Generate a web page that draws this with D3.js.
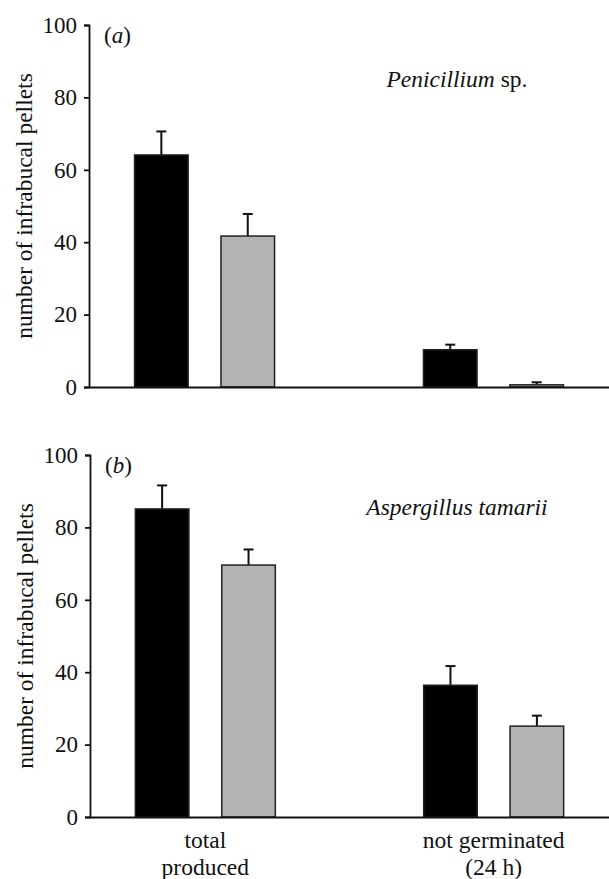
<!DOCTYPE html>
<html>
<head>
<meta charset="utf-8">
<script src="https://cdn.jsdelivr.net/npm/d3@7"></script>
<style>
  body { margin: 0; background: #fff; }
  svg { display: block; }
</style>
</head>
<body>
<div id="chart"></div>
<script>
const width = 609;
const height = 879;
const serif = "Liberation Serif";

// categorias do eixo x (cada uma em duas linhas)
const categories = ["total produced", "not germinated (24 h)"];
const categoryLines = [["total", "produced"], ["not germinated", "(24 h)"]];
const series = ["black", "grey"];
const yTicks = [0, 20, 40, 60, 80, 100];

// (a) Penicillium sp.
const penBlack = [64.1, 10.3];
const penBlackErr = [6.5, 1.4];
const penGrey = [41.7, 0.6];
const penGreyErr = [6.1, 0.7];

// (b) Aspergillus tamarii
const aspBlack = [85.1, 36.4];
const aspBlackErr = [6.5, 5.3];
const aspGrey = [69.6, 25.1];
const aspGreyErr = [4.3, 2.9];

const svg = d3.select("#chart").append("svg")
    .attr("width", width)
    .attr("height", height);

const fills = { black: "#000", grey: "#b3b3b3" };

function drawPanel(cfg) {
    const g = svg.append("g");

    const x0 = d3.scalePoint()
        .domain(categories)
        .range([cfg.left, width])
        .padding(0.4);

    const x1 = d3.scaleBand()
        .domain(series)
        .range([-70, 70])
        .paddingInner(0.38);

    const y = d3.scaleLinear()
        .domain([0, 100])
        .range([cfg.bottom, cfg.top]);

    const rows = [];
    categories.forEach((c, i) => {
        rows.push({ cat: c, s: "black", v: cfg.black[i], e: cfg.blackErr[i] });
        rows.push({ cat: c, s: "grey", v: cfg.grey[i], e: cfg.greyErr[i] });
    });

    // barras de erro (só para cima)
    const err = g.selectAll(".err").data(rows).enter().append("g");
    err.append("line")
        .attr("x1", d => x0(d.cat) + x1(d.s) + x1.bandwidth() / 2)
        .attr("x2", d => x0(d.cat) + x1(d.s) + x1.bandwidth() / 2)
        .attr("y1", d => y(d.v))
        .attr("y2", d => y(d.v + d.e))
        .attr("stroke", "#111")
        .attr("stroke-width", 2);
    err.append("line")
        .attr("x1", d => x0(d.cat) + x1(d.s) + x1.bandwidth() / 2 - 5)
        .attr("x2", d => x0(d.cat) + x1(d.s) + x1.bandwidth() / 2 + 5)
        .attr("y1", d => y(d.v + d.e))
        .attr("y2", d => y(d.v + d.e))
        .attr("stroke", "#111")
        .attr("stroke-width", 2);

    g.selectAll(".bar").data(rows).enter().append("rect")
        .attr("x", d => x0(d.cat) + x1(d.s))
        .attr("y", d => y(d.v))
        .attr("width", x1.bandwidth())
        .attr("height", d => y(0) - y(d.v))
        .attr("fill", d => fills[d.s])
        .attr("stroke", "#222")
        .attr("stroke-width", 1.5);

    // eixo y
    const yAxis = g.append("g")
        .attr("transform", `translate(${cfg.left},0)`)
        .call(d3.axisLeft(y).tickValues(yTicks).tickSize(5).tickPadding(7));
    yAxis.select(".domain").attr("stroke", "#111").attr("stroke-width", 1.8);
    yAxis.selectAll(".tick line").attr("stroke", "#111").attr("stroke-width", 1.8);
    yAxis.selectAll(".tick text")
        .attr("font-family", serif)
        .attr("font-size", 23)
        .attr("fill", "#111");

    // eixo x (linha apenas)
    const xAxis = g.append("g")
        .attr("transform", `translate(0,${cfg.bottom})`)
        .call(d3.axisBottom(d3.scaleLinear().range([cfg.left, width])).ticks(0).tickSizeOuter(0));
    xAxis.select(".domain").attr("stroke", "#111").attr("stroke-width", 1.8);

    g.append("text")
        .attr("transform", `translate(${cfg.left - 57},${(cfg.top + cfg.bottom) / 2}) rotate(-90)`)
        .attr("text-anchor", "middle")
        .attr("font-family", serif)
        .attr("font-size", 23.5)
        .attr("fill", "#111")
        .text("number of infrabucal pellets");

    const lab = g.append("text")
        .attr("x", cfg.left + 15)
        .attr("y", cfg.top + 18)
        .attr("font-family", serif)
        .attr("font-size", 23)
        .attr("fill", "#111");
    lab.append("tspan").attr("font-family", serif).text("(");
    lab.append("tspan").attr("font-family", serif).attr("font-style", "italic").text(cfg.letter);
    lab.append("tspan").attr("font-family", serif).text(")");

    const title = g.append("text")
        .attr("x", 457)
        .attr("y", cfg.titleY)
        .attr("text-anchor", "middle")
        .attr("font-family", serif)
        .attr("font-size", 23.5)
        .attr("fill", "#111");
    cfg.title.forEach(t => {
        title.append("tspan")
            .attr("font-family", serif)
            .attr("font-style", t.italic ? "italic" : "normal")
            .text(t.text);
    });

    return x0;
}

drawPanel({
    top: 25, bottom: 387, left: 89, letter: "a", titleY: 87,
    title: [{ text: "Penicillium", italic: true }, { text: " sp.", italic: false }],
    black: penBlack, blackErr: penBlackErr, grey: penGrey, greyErr: penGreyErr
});

const xb = drawPanel({
    top: 455, bottom: 817, left: 90, letter: "b", titleY: 515,
    title: [{ text: "Aspergillus tamarii", italic: true }],
    black: aspBlack, blackErr: aspBlackErr, grey: aspGrey, greyErr: aspGreyErr
});

// rótulos das categorias abaixo do painel (b)
categories.forEach((c, i) => {
    const t = svg.append("text")
        .attr("x", xb(c))
        .attr("y", 848)
        .attr("text-anchor", "middle")
        .attr("font-family", serif)
        .attr("font-size", 23.5)
        .attr("fill", "#111");
    categoryLines[i].forEach((line, j) => {
        t.append("tspan")
            .attr("font-family", serif)
            .attr("x", xb(c))
            .attr("dy", j === 0 ? 0 : 27)
            .text(line);
    });
});
</script>
</body>
</html>
